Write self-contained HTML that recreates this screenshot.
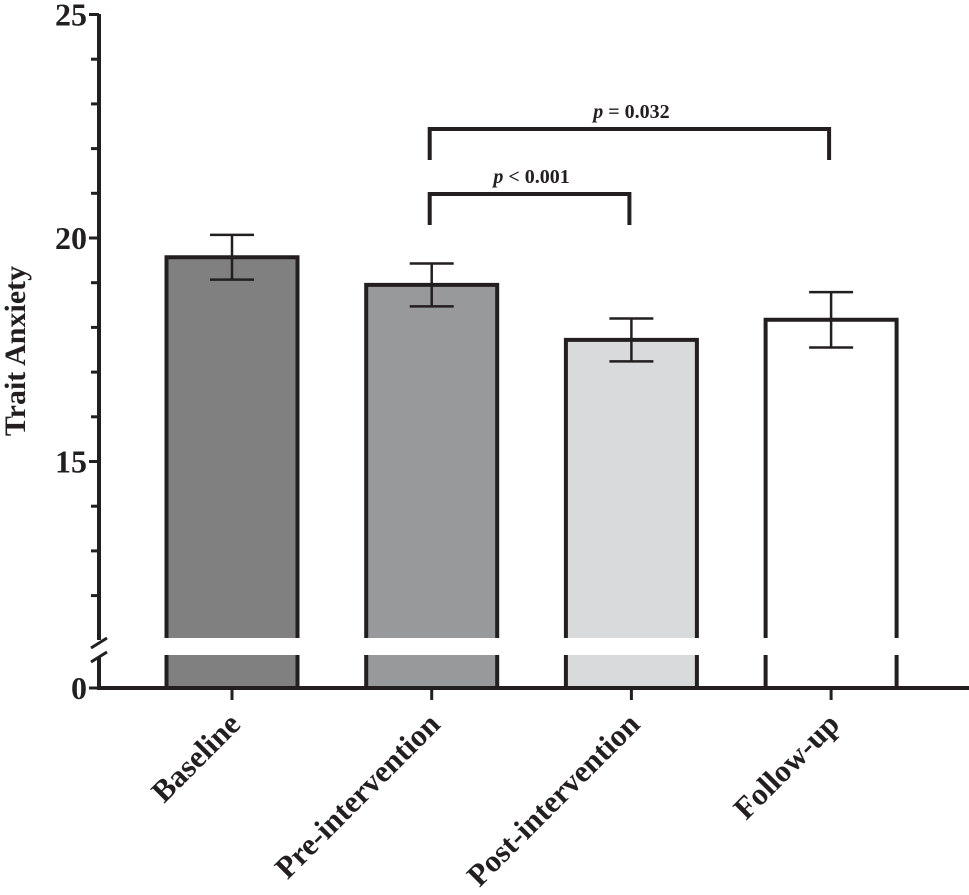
<!DOCTYPE html>
<html><head><meta charset="utf-8"><style>
body{margin:0;background:#fff;}
svg text{font-family:"Liberation Serif",serif;font-weight:bold;fill:#231f20;}
</style></head><body>
<svg id="c" width="969" height="890"></svg>
<script>
const categories=["Baseline","Pre-intervention","Post-intervention","Follow-up"];
const means=[19.57,18.95,17.72,18.17];
const errors=[0.5,0.48,0.48,0.62];
const fills=["#808080","#98999b","#d9dadc","#ffffff"];
const yTicks=[15,20,25];
const sigLabels=["p < 0.001","p = 0.032"];
const svg=document.getElementById('c');
const NS="http://www.w3.org/2000/svg";
const AX=99, Y0=688, BREAK_TOP=638, BREAK_BOT=655;
function y(v){return 238-(v-20)*44.7;}
function x(i){return 232+i*199.7;}
const BW=131;
function el(t,a,p){const e=document.createElementNS(NS,t);for(const k in a)e.setAttribute(k,a[k]);(p||svg).appendChild(e);return e;}
const ink="#231f20";
categories.forEach((c,i)=>{
  const g=el('g',{});
  
  
  const L=x(i)-BW/2, T=y(means[i]);
  el('rect',{x:L,y:T,width:BW,height:Y0-T,fill:fills[i]},g);
  el('path',{d:`M${L},${Y0} V${T} H${L+BW} V${Y0}`,fill:'none',stroke:ink,'stroke-width':4},g);
  el('rect',{x:L-4,y:BREAK_TOP,width:BW+8,height:BREAK_BOT-BREAK_TOP,fill:'#fff'},g);
  const e=el('path',{d:`M${x(i)},${y(means[i]+errors[i])} V${y(means[i]-errors[i])} M${x(i)-22},${y(means[i]+errors[i])} H${x(i)+22} M${x(i)-22},${y(means[i]-errors[i])} H${x(i)+22}`,stroke:ink,'stroke-width':2.5,fill:'none'});
  
  
  el('line',{x1:x(i),y1:Y0,x2:x(i),y2:Y0+12,stroke:ink,'stroke-width':3});
  const t=el('text',{x:0,y:0,'font-size':31,'text-anchor':'end',transform:`translate(${x(i)+10},${Y0+38}) rotate(-45)`});
  t.textContent=c;
  
  
});
const ax=el('path',{d:`M${AX},14 V640 M${AX},657 V${Y0+2} M${AX-2},${Y0} H969`,stroke:ink,'stroke-width':4,fill:'none'});


el('path',{d:`M${AX-8},648 L${AX+8},638 M${AX-8},662 L${AX+8},652`,stroke:ink,'stroke-width':3});
for(let v=12;v<=25;v++){
  const major=yTicks.includes(v);
  el('line',{x1:AX-(major?10:8),y1:y(v),x2:AX,y2:y(v),stroke:ink,'stroke-width':3});
}
yTicks.concat([0]).forEach(v=>{
  const t=el('text',{x:AX-12,y:(v===0?Y0:y(v))+11,'font-size':32,'text-anchor':'end'});
  t.textContent=String(v);
  
  
});
el('line',{x1:AX-10,y1:Y0,x2:AX,y2:Y0,stroke:ink,'stroke-width':3});
const yt=el('text',{x:0,y:0,'font-size':30,'text-anchor':'middle',transform:'translate(25,351) rotate(-90)'});
yt.textContent='Trait Anxiety';


const brackets=[[1,2,194,225],[1,3,129,160]];
brackets.forEach((b,k)=>{
  const p=el('path',{d:`M${x(b[0])-2},${b[3]} V${b[2]} H${x(b[1])-2} V${b[3]}`,stroke:ink,'stroke-width':4,fill:'none'});
  
  
  const t=el('text',{x:(x(b[0])+x(b[1]))/2,y:b[2]-11,'font-size':20,'text-anchor':'middle'});
  t.innerHTML='<tspan font-style="italic">'+sigLabels[k].slice(0,1)+'</tspan>'+sigLabels[k].slice(1);
  
  
});
</script>
</body></html>
